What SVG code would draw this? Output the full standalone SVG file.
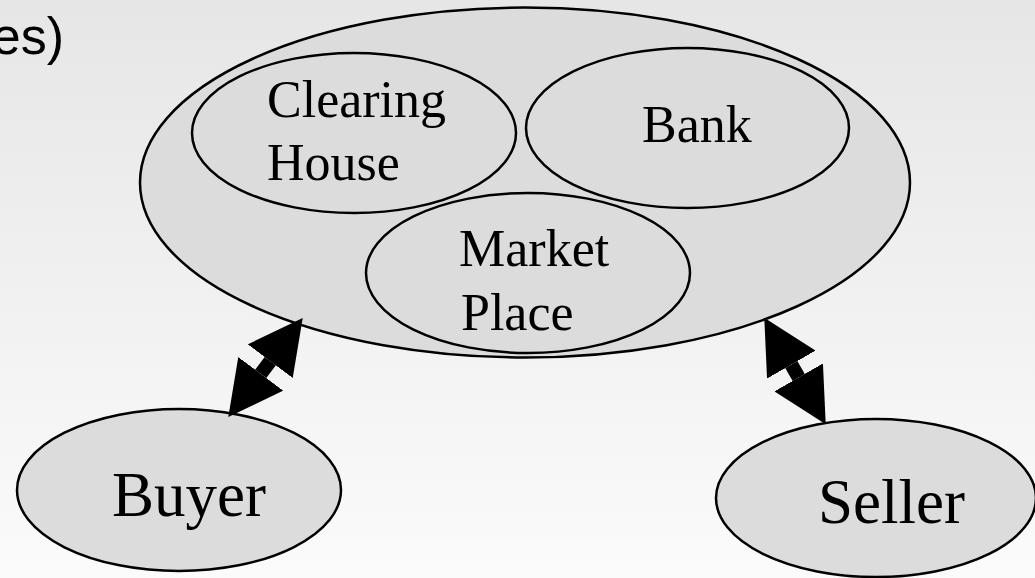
<svg xmlns="http://www.w3.org/2000/svg" width="1035" height="578" viewBox="0 0 1035 578">
  <defs>
    <linearGradient id="bg" x1="0" y1="0" x2="0" y2="1">
      <stop offset="0" stop-color="#e6e6e6"/>
      <stop offset="1" stop-color="#fbfbfb"/>
    </linearGradient>
    <marker id="head" markerUnits="userSpaceOnUse" viewBox="0 -28 54 56" markerWidth="54" markerHeight="56" refX="0" refY="0" orient="auto-start-reverse">
      <path d="M0,-28 L54,0 L0,28 z" fill="#000"/>
    </marker>
    <style>
      .node { fill: #dcdcdc; stroke: #000; stroke-width: 2.5; }
      .lbl { font-family: "Liberation Serif", "Times New Roman", serif; fill: #000; }
      .inner { font-size: 52px; }
      .outer { font-size: 63px; }
      .title { font-family: "Liberation Sans", Arial, sans-serif; font-size: 52px; fill: #000; }
      .link { stroke: #000; stroke-width: 14; fill: none; marker-start: url(#head); marker-end: url(#head); }
    </style>
  </defs>

  <rect x="0" y="0" width="1035" height="578" fill="url(#bg)"/>

  <!-- heading fragment at top-left -->
  <text class="title" x="64" y="54" text-anchor="end">es)</text>

  <!-- outer system containing the three services -->
  <g id="system">
    <ellipse class="node" cx="525" cy="182.5" rx="385" ry="175"/>
  </g>

  <g id="clearing-house">
    <ellipse class="node" cx="354" cy="133" rx="162" ry="80"/>
    <text class="lbl inner" x="267" y="116.5">Clearing</text>
    <text class="lbl inner" x="267" y="180">House</text>
  </g>

  <g id="bank">
    <ellipse class="node" cx="687.5" cy="128" rx="161.5" ry="80"/>
    <text class="lbl inner" x="642" y="141.5">Bank</text>
  </g>

  <g id="market-place">
    <ellipse class="node" cx="528" cy="273" rx="162" ry="80"/>
    <text class="lbl inner" x="459" y="265.5">Market</text>
    <text class="lbl inner" x="461" y="329.5">Place</text>
  </g>

  <g id="buyer">
    <ellipse class="node" cx="179" cy="490" rx="162" ry="81"/>
    <text class="lbl outer" x="112" y="515.5">Buyer</text>
  </g>

  <g id="seller">
    <ellipse class="node" cx="876" cy="498" rx="160" ry="79"/>
    <text class="lbl outer" x="818" y="523">Seller</text>
  </g>

  <!-- two-way links between the system and the parties -->
  <g id="connectors">
    <path class="link" d="M270.3,361.1 L260.7,373.9"/>
    <path class="link" d="M791.3,364.6 L798.7,377.4"/>
  </g>
</svg>
